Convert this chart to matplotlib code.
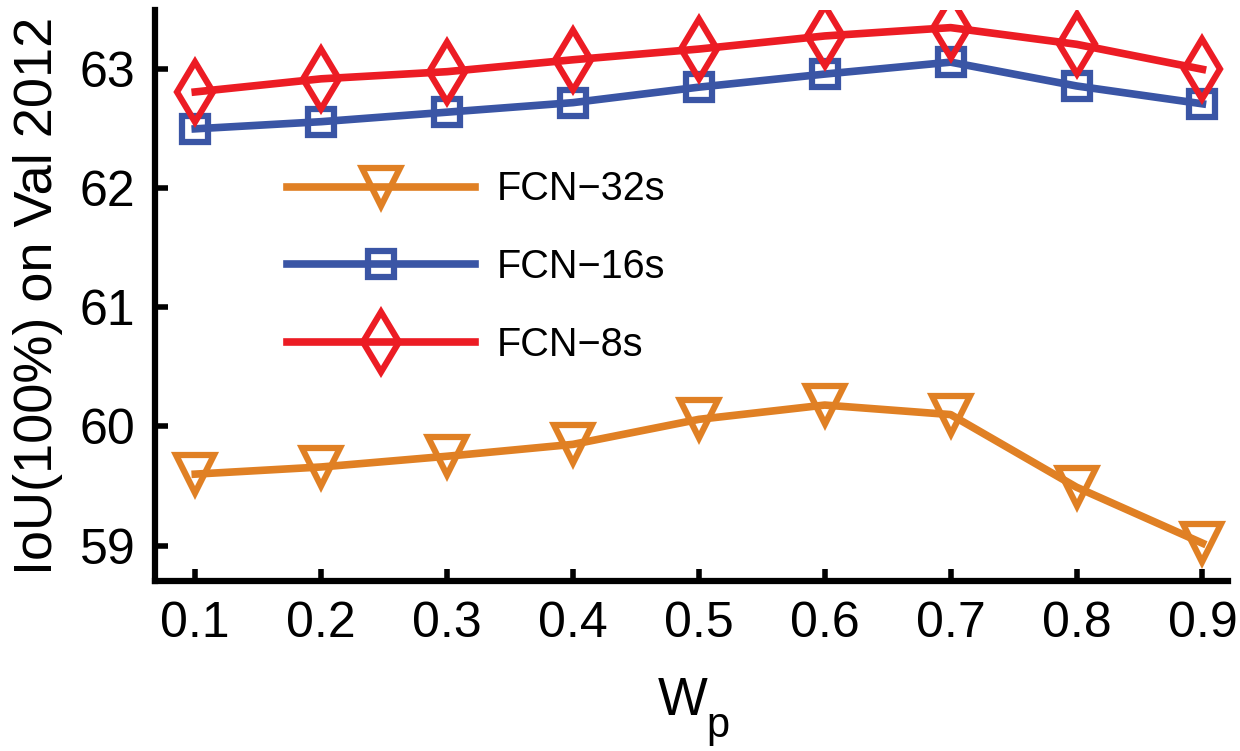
import matplotlib
matplotlib.use("Agg")
import matplotlib.pyplot as plt

plt.rcParams['font.family'] = ['Liberation Sans', 'DejaVu Sans']

wp = [0.1, 0.2, 0.3, 0.4, 0.5, 0.6, 0.7, 0.8, 0.9]
fcn32 = [59.60, 59.66, 59.75, 59.85, 60.06, 60.18, 60.10, 59.49, 59.02]
fcn16 = [62.50, 62.56, 62.64, 62.72, 62.85, 62.96, 63.06, 62.86, 62.71]
fcn8 = [62.81, 62.92, 62.98, 63.08, 63.17, 63.28, 63.35, 63.21, 63.00]
yticks = [59, 60, 61, 62, 63]

fig = plt.figure(figsize=(12.4, 7.51), dpi=100)
ax = fig.add_axes([0.125, 0.226, 0.865, 0.761])

ax.plot(wp, fcn32, color='#E08024', lw=5.5, marker='v', ms=28, mew=4.5,
        mfc='none', label='FCN\u221232s')
ax.plot(wp, fcn16, color='#3A55A5', lw=5.5, marker='s', ms=19, mew=4.5,
        mfc='none', label='FCN\u221216s')
ax.plot(wp, fcn8, color='#EC1C24', lw=5.5, marker='d', ms=31, mew=4.5,
        mfc='none', label='FCN\u22128s')

ax.set_xlim(0.068, 0.92)
ax.set_ylim(58.7, 63.5)
ax.set_xticks(wp)
ax.set_xticklabels([f"{v:.1f}" for v in wp])
ax.set_yticks(yticks)

for s in ['top', 'right']:
    ax.spines[s].set_visible(False)
for s in ['left', 'bottom']:
    ax.spines[s].set_linewidth(4.5)
ax.tick_params(direction='in', length=9, width=4, labelsize=36, pad=14)

ax.set_ylabel('IoU(100%) on Val 2012', fontsize=39, labelpad=12)

# x label W with subscript p
fig.text(683 / 1240, (751 - 715) / 751, 'W', fontsize=38, ha='center', va='baseline')
fig.text(706 / 1240, (751 - 737) / 751, 'p', fontsize=30, ha='left', va='baseline')

ax.legend(loc='center left', bbox_to_anchor=(0.123, 0.55), frameon=False,
          fontsize=28.5, handlelength=4.75, handletextpad=0.55, labelspacing=1.0,
          borderpad=0, borderaxespad=0)

fig.savefig('out.png', dpi=100)
